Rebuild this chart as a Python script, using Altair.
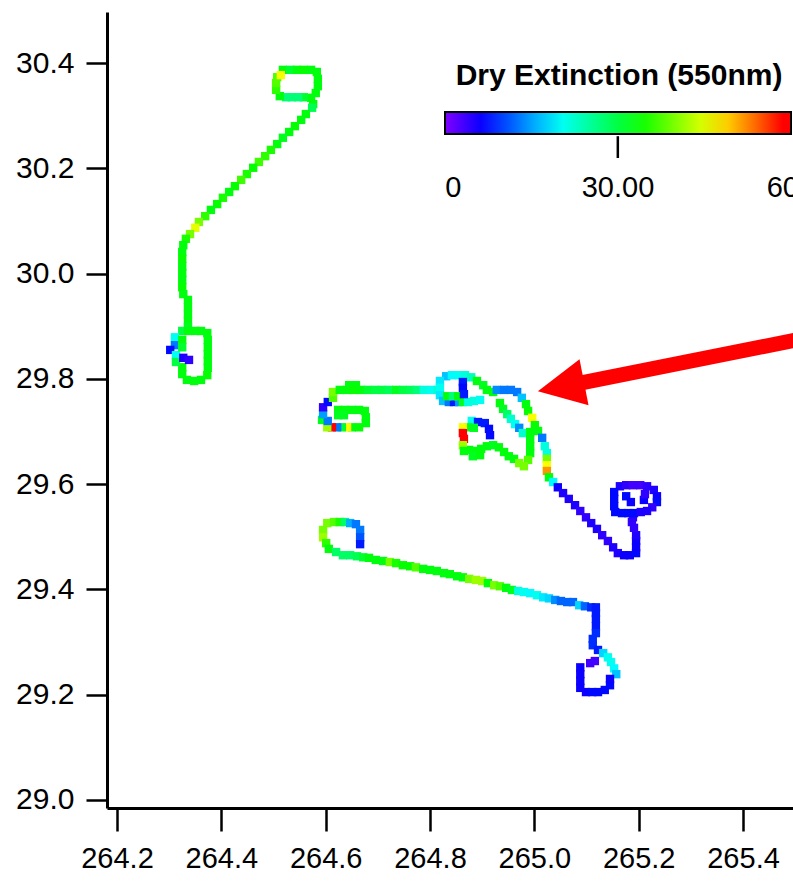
import altair as alt
import pandas as pd

# ---- flight-track samples: (longitude, latitude, dry extinction at 550 nm) ----
track_north = [
    (264.518, 30.387, 33), (264.532, 30.387, 31), (264.545, 30.387, 33), (264.558, 30.387, 34),
    (264.572, 30.387, 33), (264.583, 30.383, 33), (264.585, 30.370, 33), (264.585, 30.356, 33),
    (264.581, 30.343, 33), (264.572, 30.334, 33), (264.558, 30.335, 31), (264.547, 30.335, 27),
    (264.535, 30.335, 27), (264.524, 30.335, 27), (264.512, 30.337, 33), (264.505, 30.349, 36),
    (264.505, 30.362, 38), (264.507, 30.373, 38), (264.514, 30.377, 47),
    (264.576, 30.322, 33), (264.574, 30.315, 29), (264.562, 30.303, 33), (264.553, 30.292, 33),
    (264.541, 30.280, 34), (264.530, 30.269, 33), (264.518, 30.258, 32), (264.507, 30.246, 33),
    (264.495, 30.235, 35), (264.484, 30.223, 36), (264.472, 30.212, 37), (264.461, 30.201, 34),
    (264.449, 30.189, 35), (264.438, 30.178, 37), (264.426, 30.166, 34), (264.415, 30.155, 33),
    (264.403, 30.144, 35), (264.392, 30.132, 34), (264.380, 30.121, 33), (264.369, 30.109, 36),
    (264.357, 30.098, 40), (264.350, 30.087, 46), (264.340, 30.075, 40), (264.332, 30.066, 35),
    (264.327, 30.054, 33),
    (264.325, 30.041, 33), (264.325, 30.028, 34), (264.325, 30.014, 33), (264.325, 30.001, 33),
    (264.325, 29.988, 33), (264.325, 29.974, 34), (264.327, 29.961, 33), (264.336, 29.950, 33),
    (264.336, 29.936, 33), (264.336, 29.923, 33), (264.336, 29.910, 33), (264.336, 29.898, 32),
    (264.325, 29.891, 30), (264.336, 29.891, 33), (264.350, 29.891, 33), (264.361, 29.891, 33),
    (264.373, 29.887, 33), (264.374, 29.874, 33), (264.374, 29.860, 33), (264.374, 29.847, 33),
    (264.374, 29.834, 33), (264.374, 29.821, 33), (264.373, 29.807, 34), (264.361, 29.798, 33),
    (264.348, 29.796, 33), (264.334, 29.798, 33), (264.325, 29.809, 33), (264.325, 29.822, 33),
    (264.311, 29.879, 20), (264.311, 29.864, 12), (264.302, 29.855, 6), (264.313, 29.845, 20),
    (264.313, 29.832, 30), (264.327, 29.840, 4), (264.338, 29.836, 3), (264.325, 29.874, 33),
    (264.325, 29.860, 31),
]

track_mid_west = [
    (264.624, 29.741, 33), (264.637, 29.741, 33), (264.650, 29.741, 33), (264.664, 29.741, 33),
    (264.675, 29.739, 33), (264.624, 29.731, 32), (264.635, 29.731, 32), (264.677, 29.727, 33),
    (264.677, 29.716, 33), (264.664, 29.708, 34), (264.650, 29.708, 33), (264.641, 29.708, 47),
    (264.631, 29.708, 31), (264.622, 29.708, 12), (264.612, 29.708, 60), (264.603, 29.708, 42),
    (264.593, 29.722, 32), (264.604, 29.720, 12), (264.595, 29.733, 14), (264.595, 29.746, 3),
    (264.604, 29.756, 6), (264.614, 29.764, 38), (264.614, 29.775, 40),
    (264.627, 29.779, 33), (264.641, 29.779, 33), (264.645, 29.788, 33), (264.658, 29.788, 33),
    (264.654, 29.779, 34), (264.668, 29.779, 33), (264.681, 29.779, 31), (264.695, 29.779, 30),
    (264.708, 29.779, 30), (264.721, 29.779, 29), (264.735, 29.779, 32), (264.748, 29.779, 30),
    (264.762, 29.779, 29), (264.775, 29.779, 27), (264.788, 29.779, 21), (264.802, 29.779, 20),
    (264.815, 29.779, 22),
]

track_mid_loops = [
    (264.831, 29.805, 16), (264.842, 29.807, 19), (264.856, 29.807, 20), (264.867, 29.807, 21),
    (264.879, 29.803, 23), (264.819, 29.796, 18), (264.819, 29.783, 20), (264.819, 29.769, 18),
    (264.825, 29.758, 16), (264.836, 29.756, 12), (264.846, 29.756, 7), (264.856, 29.756, 14),
    (264.863, 29.756, 32), (264.873, 29.756, 21), (264.884, 29.758, 21), (264.896, 29.760, 20),
    (264.833, 29.767, 33), (264.844, 29.767, 27), (264.854, 29.767, 33), (264.863, 29.794, 7),
    (264.863, 29.783, 6), (264.865, 29.771, 7), (264.890, 29.796, 33), (264.902, 29.788, 32),
    (264.909, 29.779, 33), (264.921, 29.775, 33), (264.928, 29.779, 13), (264.942, 29.779, 12),
    (264.955, 29.779, 12), (264.967, 29.775, 12), (264.976, 29.764, 16),
    (264.934, 29.754, 33), (264.940, 29.743, 32), (264.948, 29.733, 28), (264.955, 29.724, 22),
    (264.963, 29.714, 20), (264.971, 29.707, 13), (264.978, 29.697, 22),
    (264.984, 29.752, 33), (264.988, 29.739, 34), (264.996, 29.726, 47), (265.001, 29.712, 34),
    (265.007, 29.701, 33), (265.015, 29.688, 12), (265.020, 29.672, 21), (265.024, 29.659, 21),
    (265.024, 29.648, 40), (265.024, 29.636, 47), (265.024, 29.625, 53), (265.028, 29.613, 33),
    (265.036, 29.604, 19),
    (264.992, 29.699, 33), (264.992, 29.686, 33), (264.992, 29.672, 33), (264.992, 29.659, 33),
    (264.988, 29.646, 38), (264.980, 29.634, 40),
    (264.875, 29.665, 33), (264.886, 29.663, 33), (264.898, 29.667, 33), (264.909, 29.672, 33),
    (264.921, 29.674, 32), (264.932, 29.670, 33), (264.942, 29.661, 33), (264.951, 29.653, 33),
    (264.961, 29.648, 33), (264.971, 29.640, 40), (264.882, 29.653, 32), (264.896, 29.655, 33),
    (264.880, 29.720, 20), (264.892, 29.718, 7), (264.905, 29.716, 7), (264.913, 29.705, 6),
    (264.915, 29.693, 6), (264.873, 29.708, 32), (264.884, 29.707, 32), (264.863, 29.708, 47),
    (264.863, 29.697, 60), (264.865, 29.686, 60), (264.863, 29.674, 42), (264.865, 29.663, 33),
]

track_mid_east = [
    (265.045, 29.594, 5), (265.055, 29.583, 4), (265.066, 29.572, 4), (265.078, 29.560, 4),
    (265.088, 29.549, 3), (265.099, 29.537, 3), (265.109, 29.526, 4), (265.120, 29.515, 4),
    (265.130, 29.503, 3), (265.141, 29.492, 3), (265.151, 29.480, 4), (265.160, 29.469, 4),
    (265.172, 29.465, 5), (265.183, 29.465, 5), (265.195, 29.469, 6), (265.195, 29.480, 5),
    (265.195, 29.492, 5), (265.195, 29.503, 4), (265.191, 29.517, 3), (265.187, 29.528, 3),
    (265.189, 29.537, 3),
    (265.164, 29.596, 4), (265.176, 29.598, 3), (265.189, 29.598, 2), (265.203, 29.598, 2),
    (265.216, 29.596, 3), (265.229, 29.589, 4), (265.235, 29.577, 5), (265.235, 29.566, 6),
    (265.226, 29.556, 3), (265.153, 29.585, 6), (265.153, 29.572, 6), (265.153, 29.558, 6),
    (265.155, 29.547, 6), (265.168, 29.545, 6), (265.180, 29.545, 6), (265.191, 29.545, 6),
    (265.204, 29.547, 4), (265.216, 29.549, 4), (265.176, 29.577, 6), (265.185, 29.566, 5),
    (265.210, 29.570, 5), (265.212, 29.581, 3),
]

track_south = [
    (264.603, 29.526, 40), (264.616, 29.528, 38), (264.627, 29.528, 35), (264.637, 29.528, 28),
    (264.647, 29.526, 15), (264.658, 29.524, 12), (264.666, 29.513, 12), (264.666, 29.499, 10),
    (264.666, 29.486, 7), (264.595, 29.513, 40), (264.595, 29.499, 42), (264.601, 29.488, 36),
    (264.606, 29.477, 33), (264.620, 29.471, 28), (264.633, 29.465, 28), (264.647, 29.465, 28),
    (264.660, 29.463, 29), (264.672, 29.461, 31), (264.683, 29.460, 33),
    (264.696, 29.456, 33), (264.710, 29.454, 33), (264.723, 29.452, 40), (264.735, 29.450, 35),
    (264.748, 29.446, 34), (264.762, 29.444, 34), (264.773, 29.442, 38), (264.787, 29.439, 33),
    (264.800, 29.437, 33), (264.813, 29.435, 33), (264.827, 29.431, 33), (264.838, 29.429, 33),
    (264.852, 29.425, 33), (264.863, 29.423, 33), (264.875, 29.420, 40), (264.888, 29.418, 42),
    (264.900, 29.416, 42), (264.911, 29.412, 33), (264.923, 29.408, 40), (264.934, 29.406, 38),
    (264.946, 29.403, 33), (264.957, 29.399, 32), (264.969, 29.397, 21), (264.980, 29.395, 20),
    (264.992, 29.393, 19), (265.005, 29.389, 20), (265.017, 29.385, 18), (265.028, 29.383, 17),
    (265.040, 29.380, 13), (265.051, 29.378, 11), (265.063, 29.376, 11), (265.074, 29.376, 11),
    (265.086, 29.370, 17), (265.097, 29.368, 11), (265.109, 29.366, 8), (265.118, 29.366, 7),
    (265.118, 29.355, 7), (265.118, 29.344, 7), (265.118, 29.330, 7), (265.118, 29.317, 8),
    (265.112, 29.306, 8), (265.112, 29.294, 8), (265.122, 29.285, 7), (265.132, 29.279, 17),
    (265.141, 29.271, 20), (265.147, 29.262, 20), (265.153, 29.250, 19), (265.157, 29.239, 16),
    (265.107, 29.260, 2), (265.116, 29.264, 2), (265.088, 29.252, 5), (265.088, 29.239, 5),
    (265.088, 29.226, 5), (265.088, 29.213, 5), (265.099, 29.205, 5), (265.111, 29.205, 6),
    (265.122, 29.205, 6), (265.135, 29.209, 6), (265.145, 29.218, 6), (265.145, 29.230, 5),
]

# ---- axes and colour bar ----
x_ticks = [264.2, 264.4, 264.6, 264.8, 265.0, 265.2, 265.4]
y_ticks = [29.0, 29.2, 29.4, 29.6, 29.8, 30.0, 30.2, 30.4]
x_domain = [264.1808, 265.4958]
y_domain = [28.9848, 30.4969]
color_stops = [-1.5, 5.6, 19.2, 33.7, 47.3, 54.0, 59.5, 61.5]
color_range = ["#8000ff", "#0000ff", "#00ffff", "#00ff00", "#ffff00", "#ff8000", "#ff0000", "#ff0000"]
legend_values = [0, 30, 60]
legend_title = "Dry Extinction (550nm)"

# ---- annotations (data coordinates) ----
arrow_shaft_lon = [265.548, 265.078]
arrow_shaft_lat = [29.883, 29.790]
arrow_head_lon = [265.051]
arrow_head_lat = [29.785]
cbar_tick_lon = [265.160]
cbar_tick_lat = [30.2195]
cbar_tick_lat2 = [30.261]

rows = []
for seg in (track_north, track_mid_west, track_mid_loops, track_mid_east, track_south):
    rows.extend(seg)
track = pd.DataFrame(rows, columns=["lon", "lat", "ext"])
shaft = pd.DataFrame({"lon": arrow_shaft_lon, "lat": arrow_shaft_lat})
head = pd.DataFrame({"lon": arrow_head_lon, "lat": arrow_head_lat})
ctick = pd.DataFrame({"lon": cbar_tick_lon, "lat": cbar_tick_lat, "lat2": cbar_tick_lat2})

FONT = "Liberation Sans"

X = alt.X(
    "lon:Q",
    scale=alt.Scale(domain=x_domain, nice=False, zero=False),
    axis=alt.Axis(
        values=x_ticks, format=".1f", title=None, grid=False,
        tickSize=23, tickWidth=2.5, tickColor="black",
        domainColor="black", domainWidth=3,
        labelFont=FONT, labelFontSize=29, labelColor="black",
        labelPadding=13, labelFlush=False, labelOverlap=False,
    ),
)
Y = alt.Y(
    "lat:Q",
    scale=alt.Scale(domain=y_domain, nice=False, zero=False),
    axis=alt.Axis(
        values=y_ticks, format=".1f", title=None, grid=False,
        tickSize=21, tickWidth=2.5, tickColor="black",
        domainColor="black", domainWidth=3,
        labelFont=FONT, labelFontSize=30, labelColor="black",
        labelPadding=12, labelFlush=False, labelOverlap=False,
    ),
)

points = alt.Chart(track).mark_square(size=70, opacity=1, filled=True).encode(
    x=X,
    y=Y,
    color=alt.Color(
        "ext:Q",
        scale=alt.Scale(domain=color_stops, range=color_range, interpolate="rgb"),
        legend=alt.Legend(
            title=legend_title,
            orient="none", legendX=338, legendY=49, direction="horizontal",
            gradientLength=346, gradientThickness=22,
            gradientStrokeColor="black", gradientStrokeWidth=2,
            values=legend_values,
            labelExpr="datum.value == 30 ? '30.00' : datum.label",
            labelFont=FONT, labelFontSize=29, labelColor="black",
            labelOffset=40, labelOverlap=False,
            titleFont=FONT, titleFontSize=30, titleFontWeight="bold",
            titleColor="black", titlePadding=21, titleAnchor="middle",
            titleLimit=0, padding=0,
        ),
    ),
)

arrow_line = alt.Chart(shaft).mark_line(color="#ff0000", strokeWidth=15, strokeCap="butt").encode(x=X, y=Y)
arrow_head = alt.Chart(head).mark_point(
    shape="M -1 0 L 1 -1 L 1 1 Z", size=2209, filled=True, color="#ff0000", opacity=1, angle=349
).encode(x=X, y=Y)
tick = alt.Chart(ctick).mark_rule(color="black", strokeWidth=2.5).encode(x=X, y=Y, y2="lat2:Q")

chart = (
    alt.layer(points, arrow_line, arrow_head, tick)
    .properties(
        width=686, height=796,
        autosize=alt.AutoSizeParams(type="none"),
        padding={"left": 107, "top": 12, "right": 0, "bottom": 73},
        background="white",
    )
    .configure_view(stroke=None)
)

chart.save("out.html", embed_options={"renderer": "svg", "actions": False})
